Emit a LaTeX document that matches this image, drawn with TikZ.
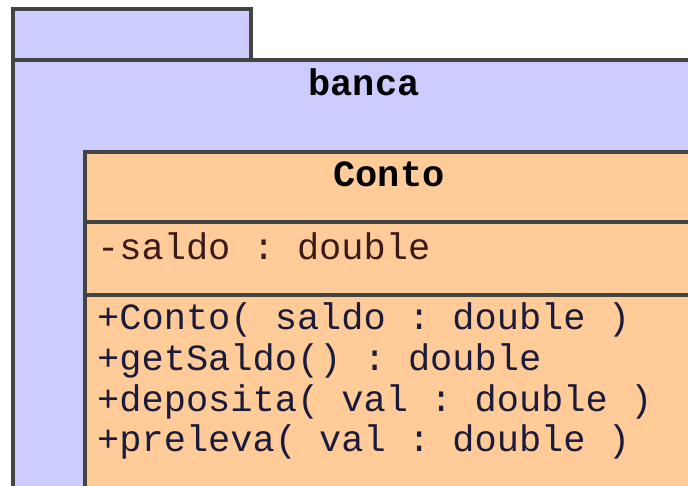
\documentclass[tikz,border=0pt]{standalone}
\usepackage{fontspec}
\setmonofont{Liberation Mono}
\definecolor{pkgfill}{HTML}{CCCCFF}
\definecolor{clsfill}{HTML}{FFCC99}
\definecolor{edge}{HTML}{444444}
\definecolor{attrtext}{HTML}{3A1A1A}
\definecolor{optext}{HTML}{1A1A3A}
\tikzset{
  box/.style={draw=edge, line width=3.2pt},
  title/.style={anchor=base, inner sep=0pt, font=\fontsize{37}{40}\selectfont\ttfamily\bfseries, text=black},
  member/.style={anchor=base west, inner sep=0pt, font=\fontsize{37}{40}\selectfont\ttfamily},
}
\begin{document}
\begin{tikzpicture}[x=1pt,y=-1pt]
\useasboundingbox (0,0) rectangle (688,486);
\clip (0,0) rectangle (688,486);
\fill[white] (0,0) rectangle (688,486);
% package tab and body
\draw[box, fill=pkgfill] (13,9) rectangle (251,60);
\draw[box, fill=pkgfill] (13,60) rectangle (720,520);
\node[title] (banca) at (364,95.5) {banca};
% class
\draw[box, fill=clsfill] (85,152) rectangle (720,520);
\draw[box] (85,222) -- (720,222);
\draw[box] (85,295) -- (720,295);
\node[title] (conto) at (389,187) {Conto};
\node[member, text=attrtext] (saldo) at (97,259.5) {-saldo : double};
\node[member, text=optext] (op1) at (97,329.5) {+Conto( saldo : double )};
\node[member, text=optext] (op2) at (97,370.5) {+getSaldo() : double};
\node[member, text=optext] (op3) at (97,411.5) {+deposita( val : double )};
\node[member, text=optext] (op4) at (97,451.5) {+preleva( val : double )};
\end{tikzpicture}
\end{document}
